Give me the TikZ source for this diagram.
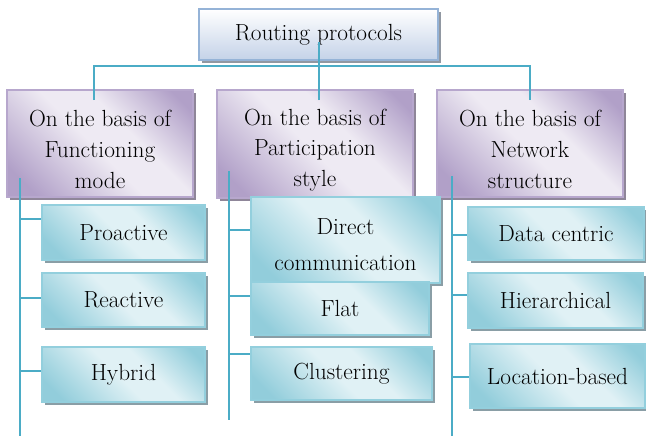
\documentclass[tikz,border=0pt]{standalone}
\usetikzlibrary{shadows,calc}

% palette
\definecolor{connc}{HTML}{4BACC6}
\definecolor{pdark}{HTML}{B1A0C8}
\definecolor{plight}{HTML}{EEEAF3}
\definecolor{pborder}{HTML}{B7A7CD}
\definecolor{pshadow}{HTML}{8F8699}
\definecolor{tdark}{HTML}{92CDDB}
\definecolor{tlight}{HTML}{E0F1F5}
\definecolor{tborder}{HTML}{93CFDD}
\definecolor{tshadow}{HTML}{8A9EA6}
\definecolor{bbot}{HTML}{C4D2E8}
\definecolor{bborder}{HTML}{95B3D7}
\definecolor{bshadow}{HTML}{9198A2}

% diagonal dark-light-dark fills
\pgfdeclarehorizontalshading{purplesh}{100bp}{color(0bp)=(pdark); color(22bp)=(pdark); color(48bp)=(plight); color(60bp)=(plight); color(80bp)=(pdark); color(100bp)=(pdark)}
\pgfdeclarehorizontalshading{tealsh}{100bp}{color(0bp)=(tdark); color(22bp)=(tdark); color(48bp)=(tlight); color(60bp)=(tlight); color(80bp)=(tdark); color(100bp)=(tdark)}

\tikzset{
  sz/.style 2 args={minimum width=#1*0.75pt, minimum height=#2*0.75pt},
  basebox/.style={rectangle, inner sep=0pt, align=center,
    font=\fontsize{17.5}{21}\selectfont},
  rootbox/.style={basebox, draw=bborder, line width=1.4pt,
    top color=white, bottom color=bbot,
    drop shadow={shadow xshift=2.5pt, shadow yshift=-2.5pt, fill=bshadow, opacity=1}},
  catbox/.style={basebox, draw=pborder, line width=1pt,
    shading=purplesh, shading angle=45,
    drop shadow={shadow xshift=2.5pt, shadow yshift=-2.5pt, fill=pshadow, opacity=1}},
  leafbox/.style={basebox, draw=tborder, line width=1.2pt,
    shading=tealsh, shading angle=45,
    drop shadow={shadow xshift=2.5pt, shadow yshift=-2.5pt, fill=tshadow, opacity=1}},
  boxtext/.style={inner sep=0pt, align=center,
    font=\fontsize{17.5}{#1}\selectfont},
  boxtext/.default=23pt,
  conn/.style={draw=connc, line width=1.7pt}
}

\begin{document}
\begin{tikzpicture}[x=0.75pt, y=-0.75pt]
\useasboundingbox (0,0) rectangle (646,436);

% root
\node[rootbox, sz={239}{51}] (root) at (318.5,34.5) {Routing protocols};

% categories (text set slightly below the box centre)
\node[catbox, sz={186}{107}] (c1) at (100,143.5) {};
\node[boxtext] (c1t) at ($(c1)+(0,6)$) {On the basis of\\Functioning\\mode};
\node[catbox, sz={196}{108}] (c2) at (315,144) {};
\node[boxtext] (c2t) at ($(c2)+(0,6)$) {On the basis of\\Participation\\style};
\node[catbox, sz={186}{107}] (c3) at (530,143.5) {};
\node[boxtext] (c3t) at ($(c3)+(0,6)$) {On the basis of\\Network\\structure};

% functioning mode
\node[leafbox, sz={163}{55}] (p1) at (123.5,232.5) {Proactive};
\node[leafbox, sz={163}{54}] (p2) at (123.5,300) {Reactive};
\node[leafbox, sz={163}{55}] (p3) at (123.5,374.5) {Hybrid};

% participation style
\node[leafbox, sz={189}{86}] (s1) at (345.5,240) {};
\node[boxtext=27pt] (s1t) at ($(s1)+(0,5)$) {Direct\\communication};
\node[leafbox, sz={178}{53}] (s2) at (340,308.5) {Flat};
\node[leafbox, sz={181}{53}] (s3) at (341.5,373.5) {Clustering};

% network structure
\node[leafbox, sz={176}{53}] (n1) at (556,233.5) {Data centric};
\node[leafbox, sz={175}{55}] (n2) at (555.5,300.5) {Hierarchical};
\node[leafbox, sz={175}{64}] (n3) at (557.5,376) {Location-based};

% bus from the root to the three categories
\coordinate (stem) at (319,42);
\coordinate (bus1) at (94,66);
\coordinate (bus3) at (530,66);
\coordinate (c1in) at (94,100);
\coordinate (c2in) at (319,100);
\coordinate (c3in) at (530,100);
\draw[conn] (stem) -- (stem |- bus1);
\draw[conn] (c1in) -- (bus1) -- (bus3) -- (c3in);
\draw[conn] (c2in) -- (c2in |- bus1);

% trunks under each category
\coordinate (k1s) at (20,178);  \coordinate (k1e) at (20,436);
\coordinate (k2s) at (229,171); \coordinate (k2e) at (229,420);
\coordinate (k3s) at (452,176); \coordinate (k3e) at (452,436);
\draw[conn] (k1s) -- (k1e);
\draw[conn] (k2s) -- (k2e);
\draw[conn] (k3s) -- (k3e);

% branches to the leaves
\coordinate (b1a) at (20,219);  \coordinate (b1b) at (20,298);  \coordinate (b1c) at (20,371);
\coordinate (b2a) at (229,230); \coordinate (b2b) at (229,296); \coordinate (b2c) at (229,354);
\coordinate (b3a) at (452,235); \coordinate (b3b) at (452,295); \coordinate (b3c) at (452,377);
\draw[conn] (b1a) -- (b1a -| p1.west);
\draw[conn] (b1b) -- (b1b -| p2.west);
\draw[conn] (b1c) -- (b1c -| p3.west);
\draw[conn] (b2a) -- (b2a -| s1.west);
\draw[conn] (b2b) -- (b2b -| s2.west);
\draw[conn] (b2c) -- (b2c -| s3.west);
\draw[conn] (b3a) -- (b3a -| n1.west);
\draw[conn] (b3b) -- (b3b -| n2.west);
\draw[conn] (b3c) -- (b3c -| n3.west);
\end{tikzpicture}
\end{document}
